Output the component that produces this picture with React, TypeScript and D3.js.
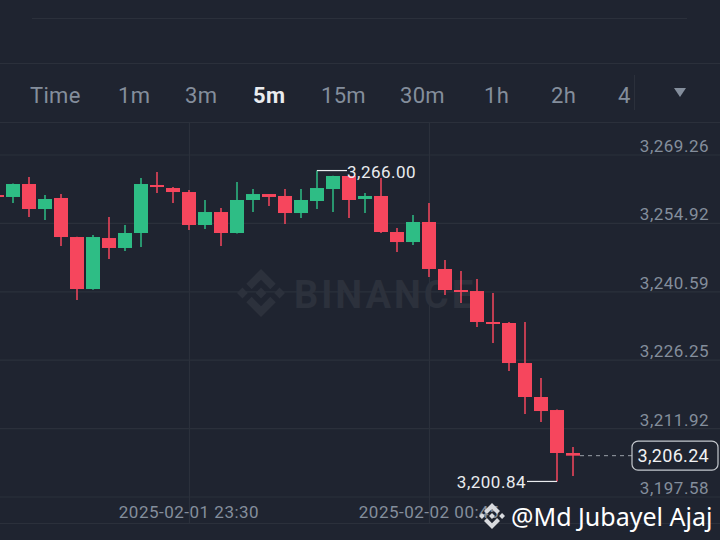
import React from "react";
import * as d3 from "d3";

// 5 minute candles, ETH/USDT
const times = [
    "2025-02-01 22:30", "2025-02-01 22:35", "2025-02-01 22:40", "2025-02-01 22:45",
    "2025-02-01 22:50", "2025-02-01 22:55", "2025-02-01 23:00", "2025-02-01 23:05",
    "2025-02-01 23:10", "2025-02-01 23:15", "2025-02-01 23:20", "2025-02-01 23:25",
    "2025-02-01 23:30", "2025-02-01 23:35", "2025-02-01 23:40", "2025-02-01 23:45",
    "2025-02-01 23:50", "2025-02-01 23:55", "2025-02-02 00:00", "2025-02-02 00:05",
    "2025-02-02 00:10", "2025-02-02 00:15", "2025-02-02 00:20", "2025-02-02 00:25",
    "2025-02-02 00:30", "2025-02-02 00:35", "2025-02-02 00:40", "2025-02-02 00:45",
    "2025-02-02 00:50", "2025-02-02 00:55", "2025-02-02 01:00", "2025-02-02 01:05",
    "2025-02-02 01:10", "2025-02-02 01:15", "2025-02-02 01:20", "2025-02-02 01:25",
    "2025-02-02 01:30",
];
const opens = [
    3260.87, 3260.46, 3263.18, 3257.94, 3260.25, 3252.07, 3241.17, 3251.86, 3249.77, 3252.91,
    3262.97, 3262.34, 3261.5, 3254.59, 3257.31, 3252.91, 3259.83, 3261.08, 3260.67, 3257.1,
    3259.62, 3262.13, 3264.86, 3260.04, 3260.67, 3253.12, 3251.02, 3255.22, 3245.37, 3240.96,
    3240.75, 3234.26, 3234.05, 3225.66, 3218.54, 3215.81, 3206.8,
];
const highs = [
    3261.1, 3263.3, 3264.65, 3260.87, 3261.08, 3252.1, 3252.49, 3256.26, 3254.59, 3264.44,
    3265.7, 3262.55, 3261.92, 3259.83, 3258.15, 3263.6, 3262.13, 3261.1, 3262.13, 3262.13,
    3266.0, 3264.9, 3265.0, 3261.29, 3264.44, 3253.96, 3256.68, 3259.2, 3247.25, 3244.95,
    3243.27, 3240.33, 3234.26, 3234.26, 3222.52, 3215.9, 3208.06,
];
const lows = [
    3260.2, 3259.2, 3256.26, 3255.64, 3250.19, 3238.87, 3241.0, 3247.46, 3249.14, 3249.98,
    3261.29, 3259.2, 3253.54, 3253.75, 3250.19, 3252.8, 3257.31, 3258.57, 3254.8, 3256.06,
    3257.94, 3257.31, 3256.06, 3257.1, 3252.91, 3248.93, 3250.4, 3243.69, 3239.91, 3238.24,
    3233.21, 3229.85, 3223.99, 3214.97, 3213.3, 3200.84, 3201.98,
];
const closes = [
    3260.46, 3263.18, 3257.94, 3260.04, 3252.07, 3241.17, 3252.07, 3249.77, 3252.91, 3263.18,
    3262.55, 3261.5, 3254.59, 3257.31, 3252.91, 3259.83, 3261.08, 3260.46, 3257.1, 3259.83,
    3262.34, 3264.86, 3259.83, 3260.67, 3253.12, 3251.02, 3255.22, 3245.37, 3240.96, 3240.54,
    3234.26, 3233.84, 3225.66, 3218.54, 3215.6, 3206.8, 3206.24,
];

const priceTicks = [3269.26, 3254.92, 3240.59, 3226.25, 3211.92, 3197.58];
const timeTicks = ["2025-02-01 23:30", "2025-02-02 00:45"];
const intervals = ["Time", "1m", "3m", "5m", "15m", "30m", "1h", "2h", "4"];
const activeInterval = "5m";
const highLabel = 3266.0;
const lowLabel = 3200.84;
const lastPrice = 3206.24;
const watermark = "BINANCE";
const credit = "@Md Jubayel Ajaj";

const BG = "#1f2430";
const GRID = "#2b303b";
const UP = "#2ebd85";
const DOWN = "#f6465d";
const MUTED = "#848e9c";
const FONT = "Roboto, 'DejaVu Sans', sans-serif";

const LOGO =
    "M38.73 53.2l24.59-24.58 24.6 24.6 14.3-14.31L63.32 0 24.43 38.9l14.3 14.3zM0 63.31l14.3-14.31 14.31 14.31-14.31 14.3L0 63.31zm38.73 10.11l24.59 24.59 24.6-24.6 14.31 14.29-38.9 38.91-38.9-38.88-.02-.02 14.32-14.29zm59.28-10.1l14.3-14.31 14.31 14.3-14.31 14.31-14.3-14.3zM77.83 63.3L63.32 48.78 52.59 59.51l-1.24 1.23-2.54 2.54-.02.02.02.03 14.51 14.5 14.51-14.52.01-.01-.01-.01z";

const parse = d3.timeParse("%Y-%m-%d %H:%M");
const fmt = d3.format(",.2f");

const App: React.FC = () => {
    const width = 720,
        height = 540;
    const plotTop = 122,
        plotBottom = 497,
        axisBottom = 523;

    const dates = times.map(t => parse(t)!);
    const x = d3
        .scaleTime()
        .domain([dates[0], dates[dates.length - 1]])
        .range([-3, 573]);
    const y = d3.scaleLinear().domain([3197.58, 3269.26]).range([plotBottom, 155]);
    const bodyW = 14;

    const candles = dates.map((d, i) => ({
        cx: x(d),
        o: opens[i],
        h: highs[i],
        l: lows[i],
        c: closes[i],
        up: closes[i] >= opens[i],
    }));

    const hiIdx = highs.indexOf(highLabel);
    const loIdx = lows.indexOf(lowLabel);
    const lastX = candles[candles.length - 1].cx;

    // toolbar layout (left edges of labels)
    const tabX = [30, 118, 185, 253, 321, 400, 484, 551, 618];

    const label = { fontFamily: FONT, fontSize: 17, letterSpacing: 0.5 };

    return (
        <div style={{ position: "fixed", left: 0, top: 0 }}>
            <svg width={width} height={height} style={{ display: "block", background: BG }}>
                <rect width={width} height={height} fill={BG} />

                {/* header */}
                <line x1={32} x2={687} y1={18.5} y2={18.5} stroke={GRID} />
                <line x1={0} x2={width} y1={63.5} y2={63.5} stroke={GRID} />
                {intervals.map((t, i) => (
                    <text
                        key={t}
                        x={tabX[i]}
                        y={103}
                        fontFamily={FONT}
                        fontSize={22}
                        letterSpacing={0.3}
                        fontWeight={t === activeInterval ? 700 : 400}
                        fill={t === activeInterval ? "#eaecef" : MUTED}
                    >
                        {t}
                    </text>
                ))}
                <line x1={634.5} x2={634.5} y1={75} y2={110} stroke={GRID} />
                <path d="M674,88 L686,88 L680,97 Z" fill={MUTED} />
                <line x1={0} x2={width} y1={plotTop + 0.5} y2={plotTop + 0.5} stroke={GRID} />

                {/* grid */}
                {priceTicks.map(p => (
                    <line key={p} x1={0} x2={width} y1={y(p)} y2={y(p)} stroke={GRID} strokeWidth={1.2} />
                ))}
                {timeTicks.map(t => {
                    const tx = Math.round(x(parse(t)!)) + 0.5;
                    return <line key={t} x1={tx} x2={tx} y1={plotTop} y2={axisBottom} stroke={GRID} strokeWidth={1.2} />;
                })}
                <line x1={0} x2={width} y1={axisBottom + 0.5} y2={axisBottom + 0.5} stroke={GRID} />

                {/* watermark */}
                <path d={LOGO} fill="#2c313c" transform={`translate(237,269) scale(${48 / 126.61})`} />
                <text
                    x={294}
                    y={308}
                    fontFamily={FONT}
                    fontWeight={700}
                    fontSize={38}
                    letterSpacing={3}
                    fill="#2c313c"
                >
                    {watermark}
                </text>

                {/* candles */}
                {candles.map((k, i) => {
                    const color = k.up ? UP : DOWN;
                    const top = y(Math.max(k.o, k.c));
                    const bot = y(Math.min(k.o, k.c));
                    return (
                        <g key={i}>
                            <line x1={k.cx} x2={k.cx} y1={y(k.h)} y2={y(k.l)} stroke={color} strokeWidth={1.5} />
                            <rect
                                x={k.cx - bodyW / 2}
                                y={top}
                                width={bodyW}
                                height={Math.max(bot - top, 1.5)}
                                fill={color}
                            />
                        </g>
                    );
                })}

                {/* high / low markers */}
                <line
                    x1={candles[hiIdx].cx}
                    x2={candles[hiIdx].cx + 30}
                    y1={y(highLabel)}
                    y2={y(highLabel)}
                    stroke="#eaecef"
                    strokeWidth={1.2}
                />
                <text x={candles[hiIdx].cx + 30} y={y(highLabel) + 7} {...label} fill="#eaecef">
                    {fmt(highLabel)}
                </text>
                <line
                    x1={candles[loIdx].cx - 30}
                    x2={candles[loIdx].cx}
                    y1={y(lowLabel)}
                    y2={y(lowLabel)}
                    stroke="#eaecef"
                    strokeWidth={1.2}
                />
                <text
                    x={candles[loIdx].cx - 31}
                    y={y(lowLabel) + 7}
                    textAnchor="end"
                    {...label}
                    fill="#eaecef"
                >
                    {fmt(lowLabel)}
                </text>

                {/* price axis */}
                {priceTicks.map(p => (
                    <text key={p} x={709} y={y(p) - 3} textAnchor="end" {...label} fill={MUTED}>
                        {fmt(p)}
                    </text>
                ))}

                {/* last price */}
                <line
                    x1={lastX + 7}
                    x2={632}
                    y1={y(lastPrice)}
                    y2={y(lastPrice)}
                    stroke="#9aa0a8"
                    strokeDasharray="4 4"
                />
                <rect
                    x={632}
                    y={y(lastPrice) - 14.5}
                    width={86}
                    height={29}
                    rx={6}
                    fill={BG}
                    stroke="#c4c8ce"
                    strokeWidth={1.2}
                />
                <text
                    x={709}
                    y={y(lastPrice) + 6.5}
                    textAnchor="end"
                    fontFamily={FONT}
                    fontSize={18}
                    letterSpacing={0.3}
                    fill="#f0f1f3"
                >
                    {fmt(lastPrice)}
                </text>

                {/* time axis */}
                {timeTicks.map(t => (
                    <text key={t} x={x(parse(t)!)} y={518} textAnchor="middle" {...label} fill={MUTED}>
                        {t}
                    </text>
                ))}

                {/* credit */}
                <path d={LOGO} fill="#d8dade" transform={`translate(479,503) scale(${26 / 126.61})`} />
                <text x={511} y={526} fontFamily="'Noto Sans', sans-serif" fontSize={25} fill="#ffffff">
                    {credit}
                </text>
            </svg>
        </div>
    );
};

export default App;
